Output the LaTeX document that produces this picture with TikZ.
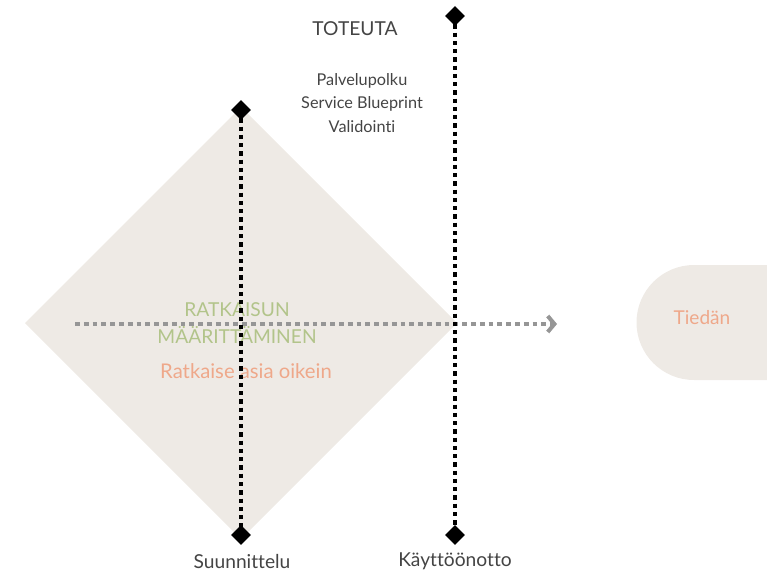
\documentclass[tikz,border=0pt]{standalone}
\usepackage{fontspec}
\setmainfont{Lato}[Ligatures=NoCommon]
\usetikzlibrary{shapes.geometric,arrows.meta}
\definecolor{sand}{RGB}{238,234,229}
\definecolor{leaf}{RGB}{178,196,138}
\definecolor{peach}{RGB}{238,168,138}
\definecolor{ink}{RGB}{68,68,68}
\definecolor{mist}{RGB}{150,150,150}
\tikzset{
  marker/.style={diamond,fill=black,inner sep=0pt,minimum size=15,draw=none},
  phase/.style={black,line width=3.2,dash pattern=on 3.2 off 3},
  flow/.style={mist,line width=3,dash pattern=on 3.6 off 3,-{Straight Barb[length=5,width=12,line width=3]}},
  label/.style={text=ink,font=\fontsize{14.4}{16}\selectfont,inner sep=0pt},
  small/.style={text=ink,font=\fontsize{12.2}{17.6}\selectfont,align=center,inner sep=0pt}
}
\begin{document}
\begin{tikzpicture}[x=0.75pt,y=-0.75pt]
\useasboundingbox (0,0) rectangle (767,571);
% solution-definition area
\fill[sand] (25,323) -- (241,107) -- (457,323) -- (241,539) -- cycle;
% outcome tab on the right
\fill[sand] (767,265) -- (694,265) arc[start angle=-90,end angle=-270,radius=57.5] -- (767,380) -- cycle;
\node[text=peach,font=\fontsize{14.3}{16}\selectfont] (know) at (702,318) {Tiedän};

% texts inside the area
\node[text=leaf,font=\fontsize{14.4}{20}\selectfont,align=center] (def) at (237,323) {RATKAISUN\\MÄÄRITTÄMINEN};
\node[text=peach,font=\fontsize{15.2}{17}\selectfont] (right) at (246,371) {Ratkaise asia oikein};

% progress arrow
\coordinate (fstart) at (75,324);
\coordinate (fend) at (557,324);
\draw[flow] (fstart) -- (fend);

% phase lines
\node[marker] (p1top) at (241,110) {};
\node[marker] (p1bot) at (241,535) {};
\node[marker] (p2top) at (455,16) {};
\node[marker] (p2bot) at (455,535) {};
\draw[phase] (p1top.center) -- (p1bot.center);
\draw[phase] (p2top.center) -- (p2bot.center);

\node[label] (plan) at (242,561) {Suunnittelu};
\node[label] (deploy) at (455,561) {Käyttöönotto};

\node[label] (do) at (355,29) {TOTEUTA};
\node[small] (tools) at (362,103) {Palvelupolku\\Service Blueprint\\Validointi};
\end{tikzpicture}
\end{document}
